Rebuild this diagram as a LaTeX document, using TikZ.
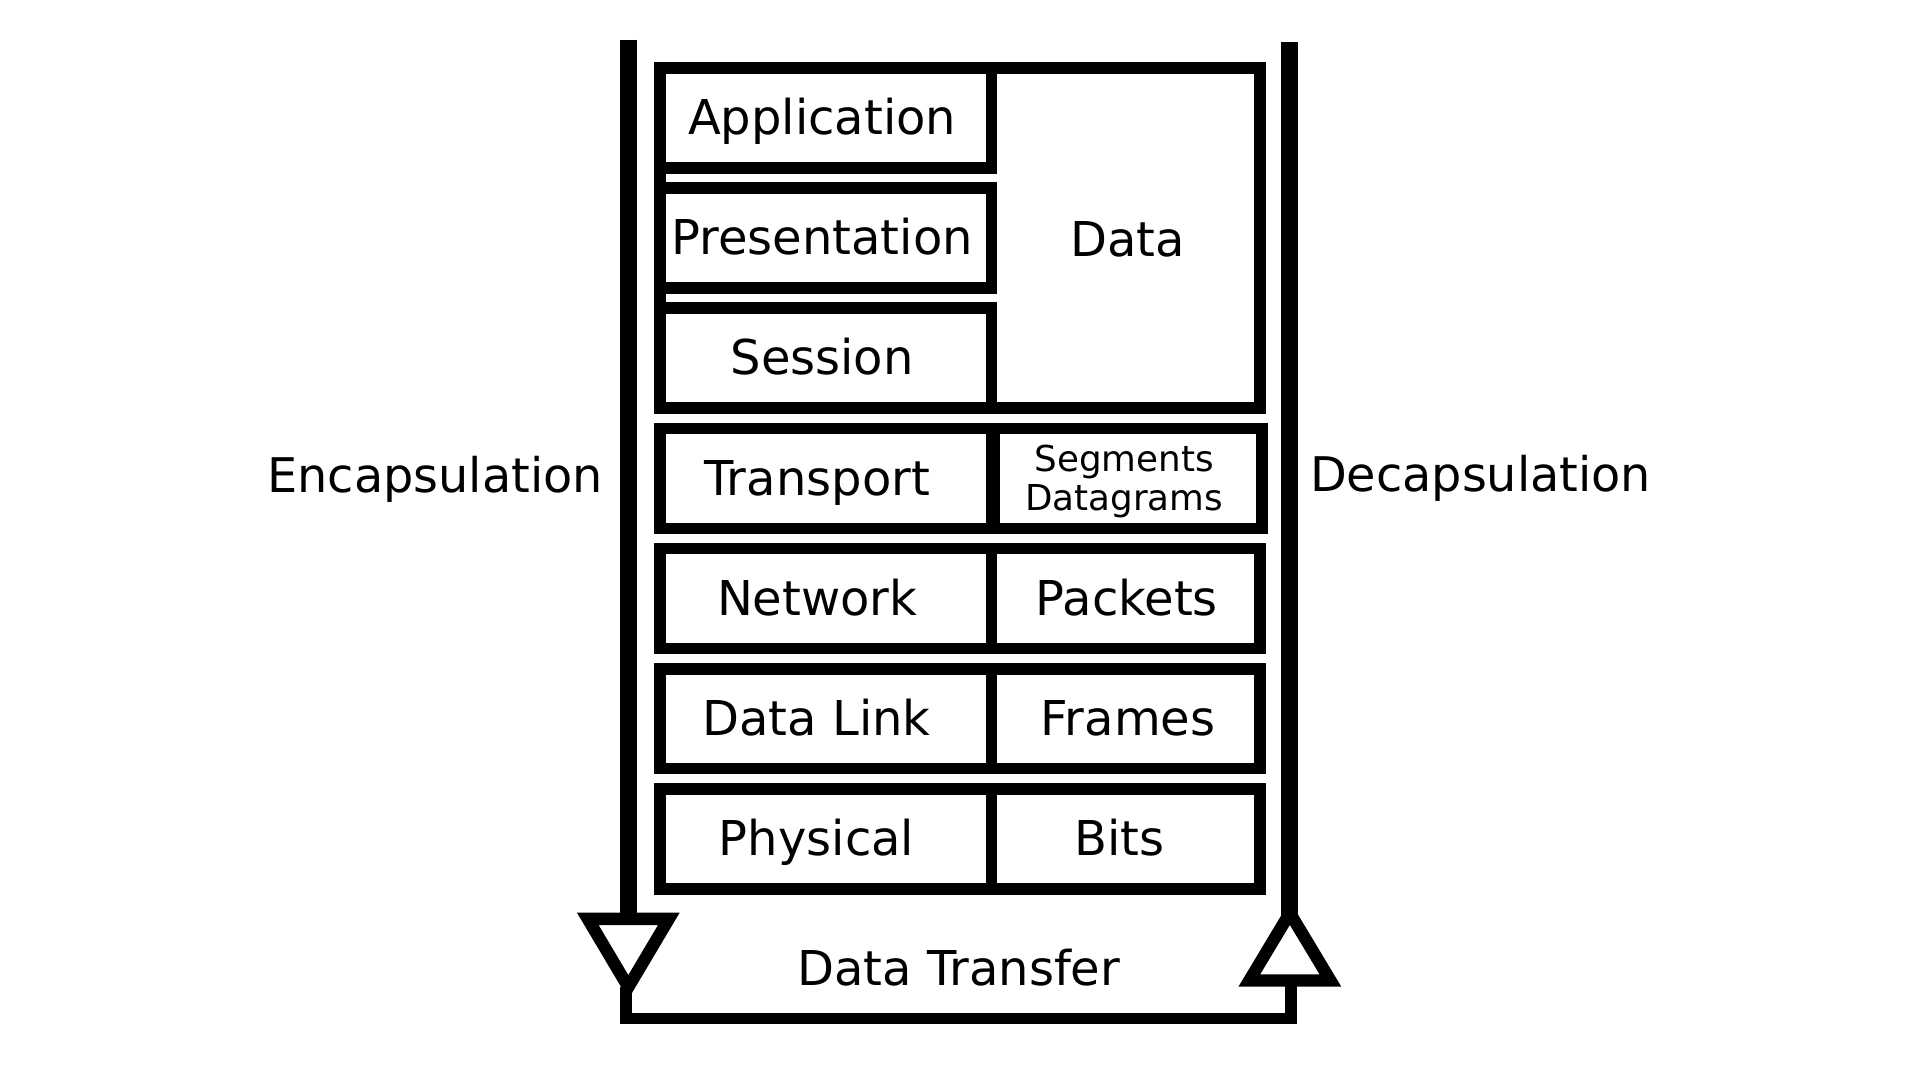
\documentclass[tikz,border=0pt]{standalone}
\usepackage{fontspec}
\setmainfont{DejaVu Sans}
\begin{document}
\begin{tikzpicture}[x=1pt,y=-1pt,
  cellbox/.style={draw, line width=9.5pt, inner sep=0pt, outer sep=0pt},
  big/.style={font=\fontsize{39}{47}\selectfont, text height=27pt, text depth=0pt},
  small/.style={font=\fontsize{29}{31.4}\selectfont, align=center},
  side/.style={font=\fontsize{38.8}{46}\selectfont, anchor=base, inner sep=0pt},
  leftcell/.style={cellbox, minimum width=269pt, minimum height=81.2pt},
  rightcell/.style={cellbox, minimum width=218pt, minimum height=81.2pt},
  shl/.style={execute at end node={\hspace*{#1}}},
  shr/.style={execute at begin node={\hspace*{#1}}},
  bar/.style={line width=14pt},
  head/.style={line width=10pt, line join=miter},
  link/.style={line width=9.5pt, line join=miter}
]
\useasboundingbox (0,0) rectangle (1560,877.5);

% upper group (Application / Presentation / Session -> Data)
\node[cellbox, minimum width=487pt, minimum height=276.4pt] (upper) at (780,193.5) {};
\node[big, inner sep=0pt] (data) at (916,195.3) {Data};
\node[leftcell, big, shl=6pt] (app)  at (671,95.9)  {Application};
\node[leftcell, big, shl=6pt] (pres) at (671,193.5) {Presentation};
\node[leftcell, big, shl=6pt] (sess) at (671,291.1) {Session};

% lower rows
\node[leftcell, big, shl=14pt] (trans) at (671,388.7) {Transport};
\node[rightcell, small, shl=6pt] (seg) at (916.5,388.7) {\rule{0pt}{26pt}Segments\\Datagrams};
\node[leftcell, big, shl=14pt] (net) at (671,486.3) {Network};
\node[rightcell, big, shr=2pt] (pkt) at (914.5,486.3) {Packets};
\node[leftcell, big, shl=15pt] (dl) at (671,583.9) {Data Link};
\node[rightcell, big, shr=4pt] (frm) at (914.5,583.9) {Frames};
\node[leftcell, big, shl=15pt] (phy) at (671,681.5) {Physical};
\node[rightcell, big, shl=10pt] (bits) at (914.5,681.5) {Bits};

% side labels
\node[side] (enc) at (353.5,400.5) {Encapsulation};
\node[side] (dec) at (1203,399) {Decapsulation};
\node[anchor=base, inner sep=0pt, font=\fontsize{39}{46}\selectfont] (xfer) at (779,801) {Data Transfer};

% encapsulation arrow (down)
\coordinate (encTop)  at (510.5,32.5);
\coordinate (encHead) at (510.5,746.6);
\coordinate (encL)    at (477.6,746.6);
\coordinate (encR)    at (543.4,746.6);
\coordinate (encTip)  at (510.5,802);
\draw[bar] (encTop) -- (encHead);
\draw[head] (encL) -- (encR) -- (encTip) -- cycle;

% decapsulation arrow (up)
\coordinate (decTop)  at (1048,34);
\coordinate (decHead) at (1048,745);
\coordinate (decTip)  at (1048,741.8);
\coordinate (decL)    at (1015.1,796.6);
\coordinate (decR)    at (1080.9,796.6);
\draw[bar] (decTop) -- (decHead);
\draw[head] (decTip) -- (decR) -- (decL) -- cycle;

% data transfer link
\coordinate (linkA) at (508.5,802);
\coordinate (linkB) at (508.5,827.5);
\coordinate (linkC) at (1048.8,827.5);
\coordinate (linkD) at (1048.8,796.6);
\draw[link] (linkA) -- (linkB) -- (linkC) -- (linkD);
\end{tikzpicture}
\end{document}
